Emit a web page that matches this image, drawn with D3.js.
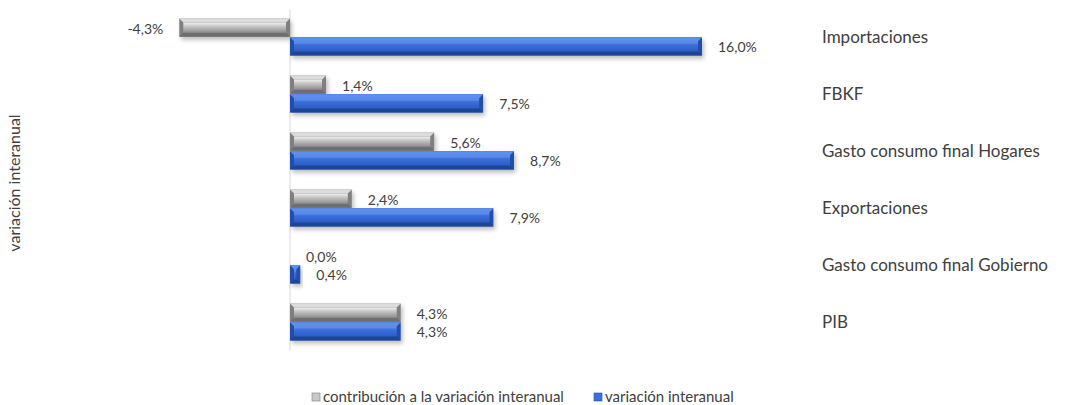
<!DOCTYPE html>
<html>
<head>
<meta charset="utf-8">
<script src="https://cdn.jsdelivr.net/npm/d3@7"></script>
<style>
  body { margin: 0; background: #fff; }
  text { font-family: Lato, "Open Sans", sans-serif; fill: #404040; }
</style>
</head>
<body>
<div id="chart"></div>
<script>
const categories = ["Importaciones", "FBKF", "Gasto consumo final Hogares", "Exportaciones", "Gasto consumo final Gobierno", "PIB"];
const contribucion = [-4.3, 1.4, 5.6, 2.4, 0.0, 4.3];
const variacion = [16.0, 7.5, 8.7, 7.9, 0.4, 4.3];
const seriesNames = ["contribución a la variación interanual", "variación interanual"];

const width = 1068, height = 405;

const svg = d3.select("#chart").append("svg")
  .attr("width", width)
  .attr("height", height);

const defs = svg.append("defs");

// bar styles: face gradient + bevel colours
const styles = [
  {id: "gris", top: "#f2f2f2", mid: "#c8c8c8", bot: "#8c8c8c", bevTop: "#dcdcdc", bevBot: "#6e6e6e", side: "#7f7f7f"},
  {id: "azul", top: "#6b9df5", mid: "#3b6fdc", bot: "#2d5cc4", bevTop: "#5a8ff0", bevBot: "#1f4496", side: "#234ea8"}
];

styles.forEach(s => {
  const g = defs.append("linearGradient")
    .attr("id", "grad-" + s.id)
    .attr("x1", 0).attr("y1", 0).attr("x2", 0).attr("y2", 1);
  g.append("stop").attr("offset", "0%").attr("stop-color", s.top);
  g.append("stop").attr("offset", "35%").attr("stop-color", s.mid);
  g.append("stop").attr("offset", "100%").attr("stop-color", s.bot);
});

const shadow = defs.append("filter").attr("id", "sombra")
  .attr("x", "-10%").attr("y", "-30%").attr("width", "130%").attr("height", "180%");
shadow.append("feDropShadow")
  .attr("dx", 2).attr("dy", 3).attr("stdDeviation", 2)
  .attr("flood-color", "#000").attr("flood-opacity", 0.25);

const x = d3.scaleLinear()
  .domain([0, 16])
  .range([290, 702]);

const y = d3.scaleBand()
  .domain(categories)
  .range([8.5, 350.5])
  .paddingInner(1 / 3)
  .paddingOuter(1 / 6);

const y1 = d3.scaleBand()
  .domain([0, 1])
  .range([0, y.bandwidth()])
  .padding(0.03);

// eje vertical en cero
svg.append("line")
  .attr("x1", x(0)).attr("x2", x(0))
  .attr("y1", 10).attr("y2", 350)
  .attr("stroke", "#d9d9d9")
  .attr("stroke-width", 1);

const rows = categories.map((c, i) => ({cat: c, vals: [contribucion[i], variacion[i]]}));

const bars = [];
rows.forEach(r => {
  r.vals.forEach((v, j) => bars.push({cat: r.cat, v: v, s: j}));
});

const bevel = 4;

svg.append("g")
  .selectAll("g")
  .data(bars)
  .join("g")
    .attr("filter", "url(#sombra)")
    .each(function(d) {
      const g = d3.select(this);
      const st = styles[d.s];
      const x0 = Math.min(x(0), x(d.v));
      const x1 = Math.max(x(0), x(d.v));
      const w = Math.max(x1 - x0, 0);
      const top = y(d.cat) + y1(d.s);
      const h = y1.bandwidth();
      if (w <= 0) return;
      const b = Math.min(bevel, w / 2, h / 2);
      g.append("rect")
        .attr("x", x0).attr("y", top)
        .attr("width", w).attr("height", h)
        .attr("fill", st.side);
      // top bevel
      g.append("polygon")
        .attr("points", [[x0, top], [x1, top], [x1 - b, top + b], [x0 + b, top + b]].join(" "))
        .attr("fill", st.bevTop);
      // bottom bevel
      g.append("polygon")
        .attr("points", [[x0, top + h], [x1, top + h], [x1 - b, top + h - b], [x0 + b, top + h - b]].join(" "))
        .attr("fill", st.bevBot);
      // face
      g.append("rect")
        .attr("x", x0 + b).attr("y", top + b)
        .attr("width", Math.max(w - 2 * b, 0)).attr("height", h - 2 * b)
        .attr("fill", "url(#grad-" + st.id + ")");
    });

// etiquetas de valores
const fmt = v => d3.format(".1f")(v).replace(".", ",").replace("−", "-") + "%";

svg.append("g")
  .attr("font-size", 14)
  .selectAll("text")
  .data(bars)
  .join("text")
    .attr("x", d => d.v < 0 ? x(d.v) - 16 : x(d.v) + 16)
    .attr("y", d => y(d.cat) + y1(d.s) + y1.bandwidth() / 2 + 1)
    .attr("dy", "0.35em")
    .attr("text-anchor", d => d.v < 0 ? "end" : "start")
    .text(d => fmt(d.v));

// etiquetas de categoria
svg.append("g")
  .attr("font-size", 17)
  .selectAll("text")
  .data(categories)
  .join("text")
    .attr("x", 822)
    .attr("y", d => y(d) + y.bandwidth() / 2)
    .attr("dy", "0.35em")
    .text(d => d);

// titulo eje
svg.append("text")
  .attr("transform", "translate(14,183) rotate(-90)")
  .attr("text-anchor", "middle")
  .attr("dy", "0.35em")
  .attr("font-size", 16)
  .text("variación interanual");

// leyenda
const legendX = [312, 594];
const legend = svg.append("g")
  .selectAll("g")
  .data(seriesNames)
  .join("g")
    .attr("transform", (d, i) => `translate(${legendX[i]},397)`);

legend.append("rect")
  .attr("x", 0).attr("y", -4)
  .attr("width", 8).attr("height", 8)
  .attr("fill", (d, i) => styles[i].mid)
  .attr("stroke", (d, i) => styles[i].side)
  .attr("stroke-width", 0.6);

legend.append("text")
  .attr("x", 11)
  .attr("dy", "0.35em")
  .attr("font-size", 15)
  .text(d => d);
</script>
</body>
</html>
